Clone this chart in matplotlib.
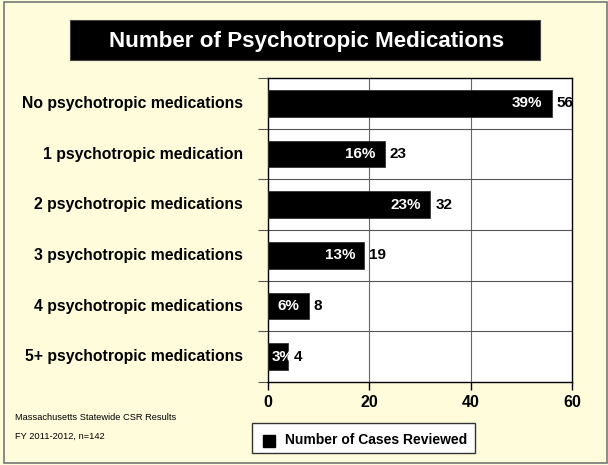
import matplotlib
matplotlib.use("Agg")
import matplotlib.pyplot as plt
from matplotlib.patches import Rectangle
import numpy as np

categories = ["No psychotropic medications", "1 psychotropic medication",
              "2 psychotropic medications", "3 psychotropic medications",
              "4 psychotropic medications", "5+ psychotropic medications"]
counts = [56, 23, 32, 19, 8, 4]
percents = ["39%", "16%", "23%", "13%", "6%", "3%"]
xticks = [0, 20, 40, 60]
title = "Number of Psychotropic Medications"
legend_label = "Number of Cases Reviewed"
notes = ["Massachusetts Statewide CSR Results", "FY 2011-2012, n=142"]

plt.rcParams['font.family'] = ['Liberation Sans', 'DejaVu Sans']
W, H = 608, 465
bg = "#FFFCDC"
fig = plt.figure(figsize=(W/100, H/100), dpi=100, facecolor=bg)

def fx(px): return px / W
def fy(py): return 1 - py / H

# figure border
fig.patches.append(Rectangle((fx(4), fy(463)), fx(603), 461/H, transform=fig.transFigure,
                             fill=False, edgecolor="#777777", lw=1.2))

ax = fig.add_axes([fx(268), fy(382), fx(572) - fx(268), fy(78) - fy(382)])
ax.set_facecolor("white")
y = np.arange(len(categories))
ax.barh(y, counts, height=0.53, color="black", edgecolor="#333333", lw=0.6, zorder=3)
ax.set_xlim(0, 60)
ax.set_ylim(len(categories) - 0.5, -0.5)

for xv in xticks[1:-1]:
    ax.axvline(xv, color="#666666", lw=0.8, zorder=1)
for b in np.arange(0.5, len(categories) - 0.5, 1):
    ax.axhline(b, color="#555555", lw=0.8, zorder=1)

for i, (c, p) in enumerate(zip(counts, percents)):
    if c >= 6:
        ax.text(c - 1.8, i, p, color="white", fontsize=11, fontweight="bold",
                ha="right", va="center", zorder=4)
    else:
        ax.text(0.8, i, p, color="white", fontsize=11, fontweight="bold",
                ha="left", va="center", zorder=4)
    ax.text(c + 1.0, i, str(c), color="black", fontsize=11, fontweight="bold",
            ha="left", va="center", zorder=5)

ax.set_xticks(xticks)
ax.set_xticklabels([str(t) for t in xticks], fontsize=11.5, fontweight="bold")
ax.tick_params(axis="x", length=6, width=1, pad=3)
ax.set_yticks(np.arange(-0.5, len(categories), 1), minor=False)
ax.set_yticklabels([])
ax.tick_params(axis="y", length=7, width=0.8, color="#555555")
for s in ax.spines.values():
    s.set_color("black")
    s.set_linewidth(1.0)

for i, cat in enumerate(categories):
    ax.text(-0.082, i, cat, transform=ax.get_yaxis_transform(), fontsize=11.3,
            fontweight="bold", ha="right", va="center")

# title box
fig.patches.append(Rectangle((fx(70), fy(60)), fx(540) - fx(70), fy(20) - fy(60),
                             transform=fig.transFigure, facecolor="black",
                             edgecolor="#444444", lw=0.8))
fig.text(fx(307), fy(41), title, color="white", fontsize=16.1, fontweight="bold",
         ha="center", va="center")

# legend box
fig.patches.append(Rectangle((fx(252), fy(453)), fx(475) - fx(252), fy(423) - fy(453),
                             transform=fig.transFigure, facecolor="white",
                             edgecolor="#333333", lw=1.0))
fig.patches.append(Rectangle((fx(263), fy(447)), fx(12), 12/H,
                             transform=fig.transFigure, facecolor="black", edgecolor="black"))
fig.text(fx(285), fy(440), legend_label, fontsize=10, fontweight="bold",
         ha="left", va="center")

fig.text(fx(15), fy(417), notes[0], fontsize=6.7, ha="left", va="center")
fig.text(fx(15), fy(436), notes[1], fontsize=6.7, ha="left", va="center")

fig.savefig("out.png", dpi=100, facecolor=bg)
